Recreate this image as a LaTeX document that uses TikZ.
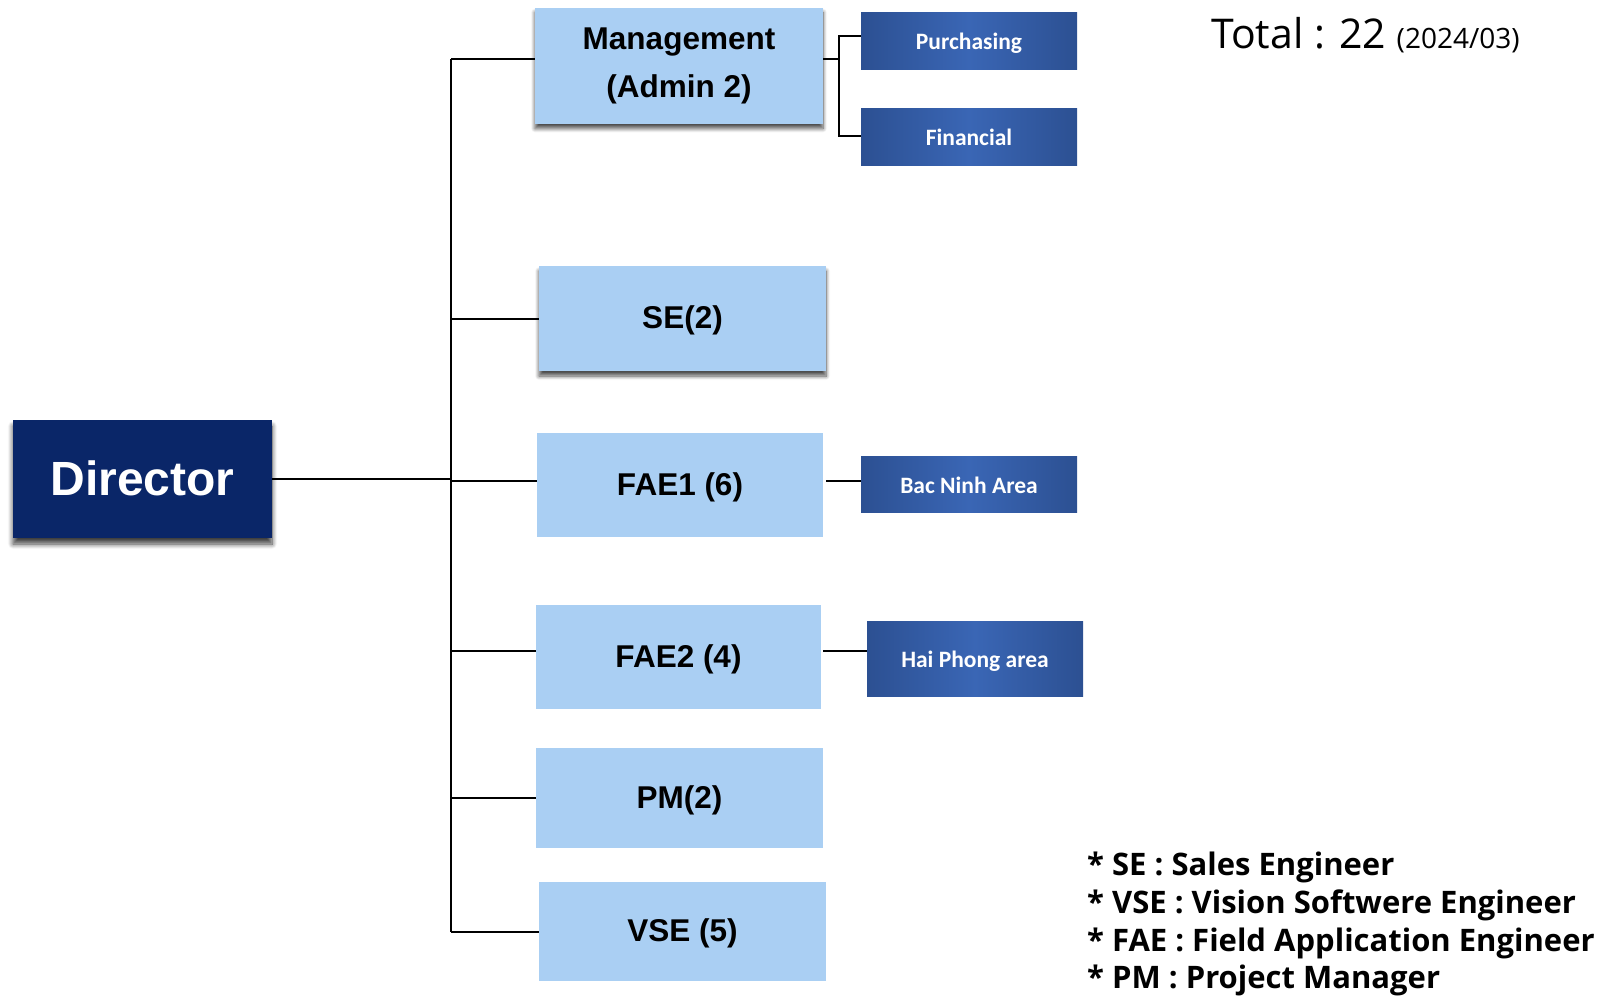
\documentclass[tikz,border=0pt]{standalone}
\usepackage{fontspec}
\setmainfont{Liberation Sans}
\newfontfamily\calfont{Carlito}
\newfontfamily\legfont{Open Sans}
\usetikzlibrary{shadows,shadows.blur}
\definecolor{lightbox}{RGB}{170,207,243}
\definecolor{navy}{RGB}{10,38,104}
\definecolor{subedge}{RGB}{44,80,146}
\definecolor{submid}{RGB}{58,102,181}
\tikzset{
  conn/.style={draw=black, line width=1.3pt},
  dept/.style={fill=lightbox, inner sep=0pt, align=center,
    font=\bfseries\fontsize{31.5}{48}\selectfont},
  onel/.style={text height=24pt, text depth=4pt},
  shad/.style={blur shadow={shadow xshift=0pt, shadow yshift=-5pt, shadow blur radius=4pt, shadow blur steps=8, shadow opacity=70}},
  subbox/.style={left color=subedge, right color=subedge, middle color=submid,
    inner sep=0pt, minimum width=216pt, text=white, text height=21pt, text depth=3pt,
    font=\calfont\bfseries\fontsize{23.5}{28}\selectfont},
  legend/.style={anchor=base west, inner sep=0pt, font=\legfont\bfseries\fontsize{31}{38}\selectfont}
}
\begin{document}
\begin{tikzpicture}[x=1pt, y=-1pt]
\useasboundingbox (0,0) rectangle (1616,997);

% Director
\node[fill=navy, text=white, minimum width=259pt, minimum height=118pt, inner sep=0pt,
  text height=35pt, text depth=2pt,
  font=\bfseries\fontsize{48}{58}\selectfont,
  blur shadow={shadow xshift=0pt, shadow yshift=-6pt, shadow blur radius=5pt, shadow blur steps=8, shadow opacity=75}]
  (dir) at (142.5,479) {Director};

% Departments
\node[dept, shad, minimum width=288pt, minimum height=116pt] (mgmt) at (679,65.5) {Management\\(Admin 2)};
\node[dept, onel, shad, minimum width=287pt, minimum height=105pt] (se) at (682.5,318.5) {SE(2)};
\node[dept, onel, minimum width=286pt, minimum height=104pt] (fae1) at (680,485) {FAE1 (6)};
\node[dept, onel, minimum width=285pt, minimum height=104pt] (fae2) at (678.5,657) {FAE2 (4)};
\node[dept, onel, minimum width=287pt, minimum height=100pt] (pm) at (679.5,798) {PM(2)};
\node[dept, onel, minimum width=287pt, minimum height=99pt] (vse) at (682.5,931.5) {VSE (5)};

% Sub units
\node[subbox, minimum height=57pt] (purch) at (969,40.5) {Purchasing};
\node[subbox, minimum height=57pt] (fin) at (969,136.5) {Financial};
\node[subbox, minimum height=56pt] (bac) at (969,484) {Bac Ninh Area};
\node[subbox, minimum height=75pt] (hai) at (975,658.5) {Hai Phong area};

% Trunk
\coordinate (ttop) at (451,59);
\coordinate (tbot) at (451,932);
\coordinate (tdir) at (451,479);
\coordinate (tse) at (451,319);
\coordinate (tfae1) at (451,481);
\coordinate (tfae2) at (451,651);
\coordinate (tpm) at (451,798);
\draw[conn] (ttop) -- (tbot);
\draw[conn] (dir.east |- tdir) -- (tdir);
\draw[conn] (ttop) -- (ttop -| mgmt.west);
\draw[conn] (tse) -- (tse -| se.west);
\draw[conn] (tfae1) -- (tfae1 -| fae1.west);
\draw[conn] (tfae2) -- (tfae2 -| fae2.west);
\draw[conn] (tpm) -- (tpm -| pm.west);
\draw[conn] (tbot) -- (tbot -| vse.west);

% Management bracket
\coordinate (bm) at (839,59);
\coordinate (bp) at (839,36);
\coordinate (bf) at (839,136);
\draw[conn] (bm -| mgmt.east) -- (bm);
\draw[conn] (bp -| purch.west) -- (bp) -- (bf) -- (bf -| fin.west);

% FAE sub links
\coordinate (lb) at (826,481);
\coordinate (lh) at (823,651);
\draw[conn] (lb) -- (lb -| bac.west);
\draw[conn] (lh) -- (lh -| hai.west);

% Total
\node[anchor=base west, inner sep=0pt, font=\legfont\fontsize{41}{48}\selectfont] (total) at (1211,48.5)
  {Total : 22 {\fontsize{28}{32}\selectfont (2024/03)}};

% Legend
\node[legend] (l1) at (1087,875) {* SE : Sales Engineer};
\node[legend] (l2) at (1087,913) {* VSE : Vision Softwere Engineer};
\node[legend] (l3) at (1087,951) {* FAE : Field Application Engineer};
\node[legend] (l4) at (1087,988) {* PM : Project Manager};
\end{tikzpicture}
\end{document}
